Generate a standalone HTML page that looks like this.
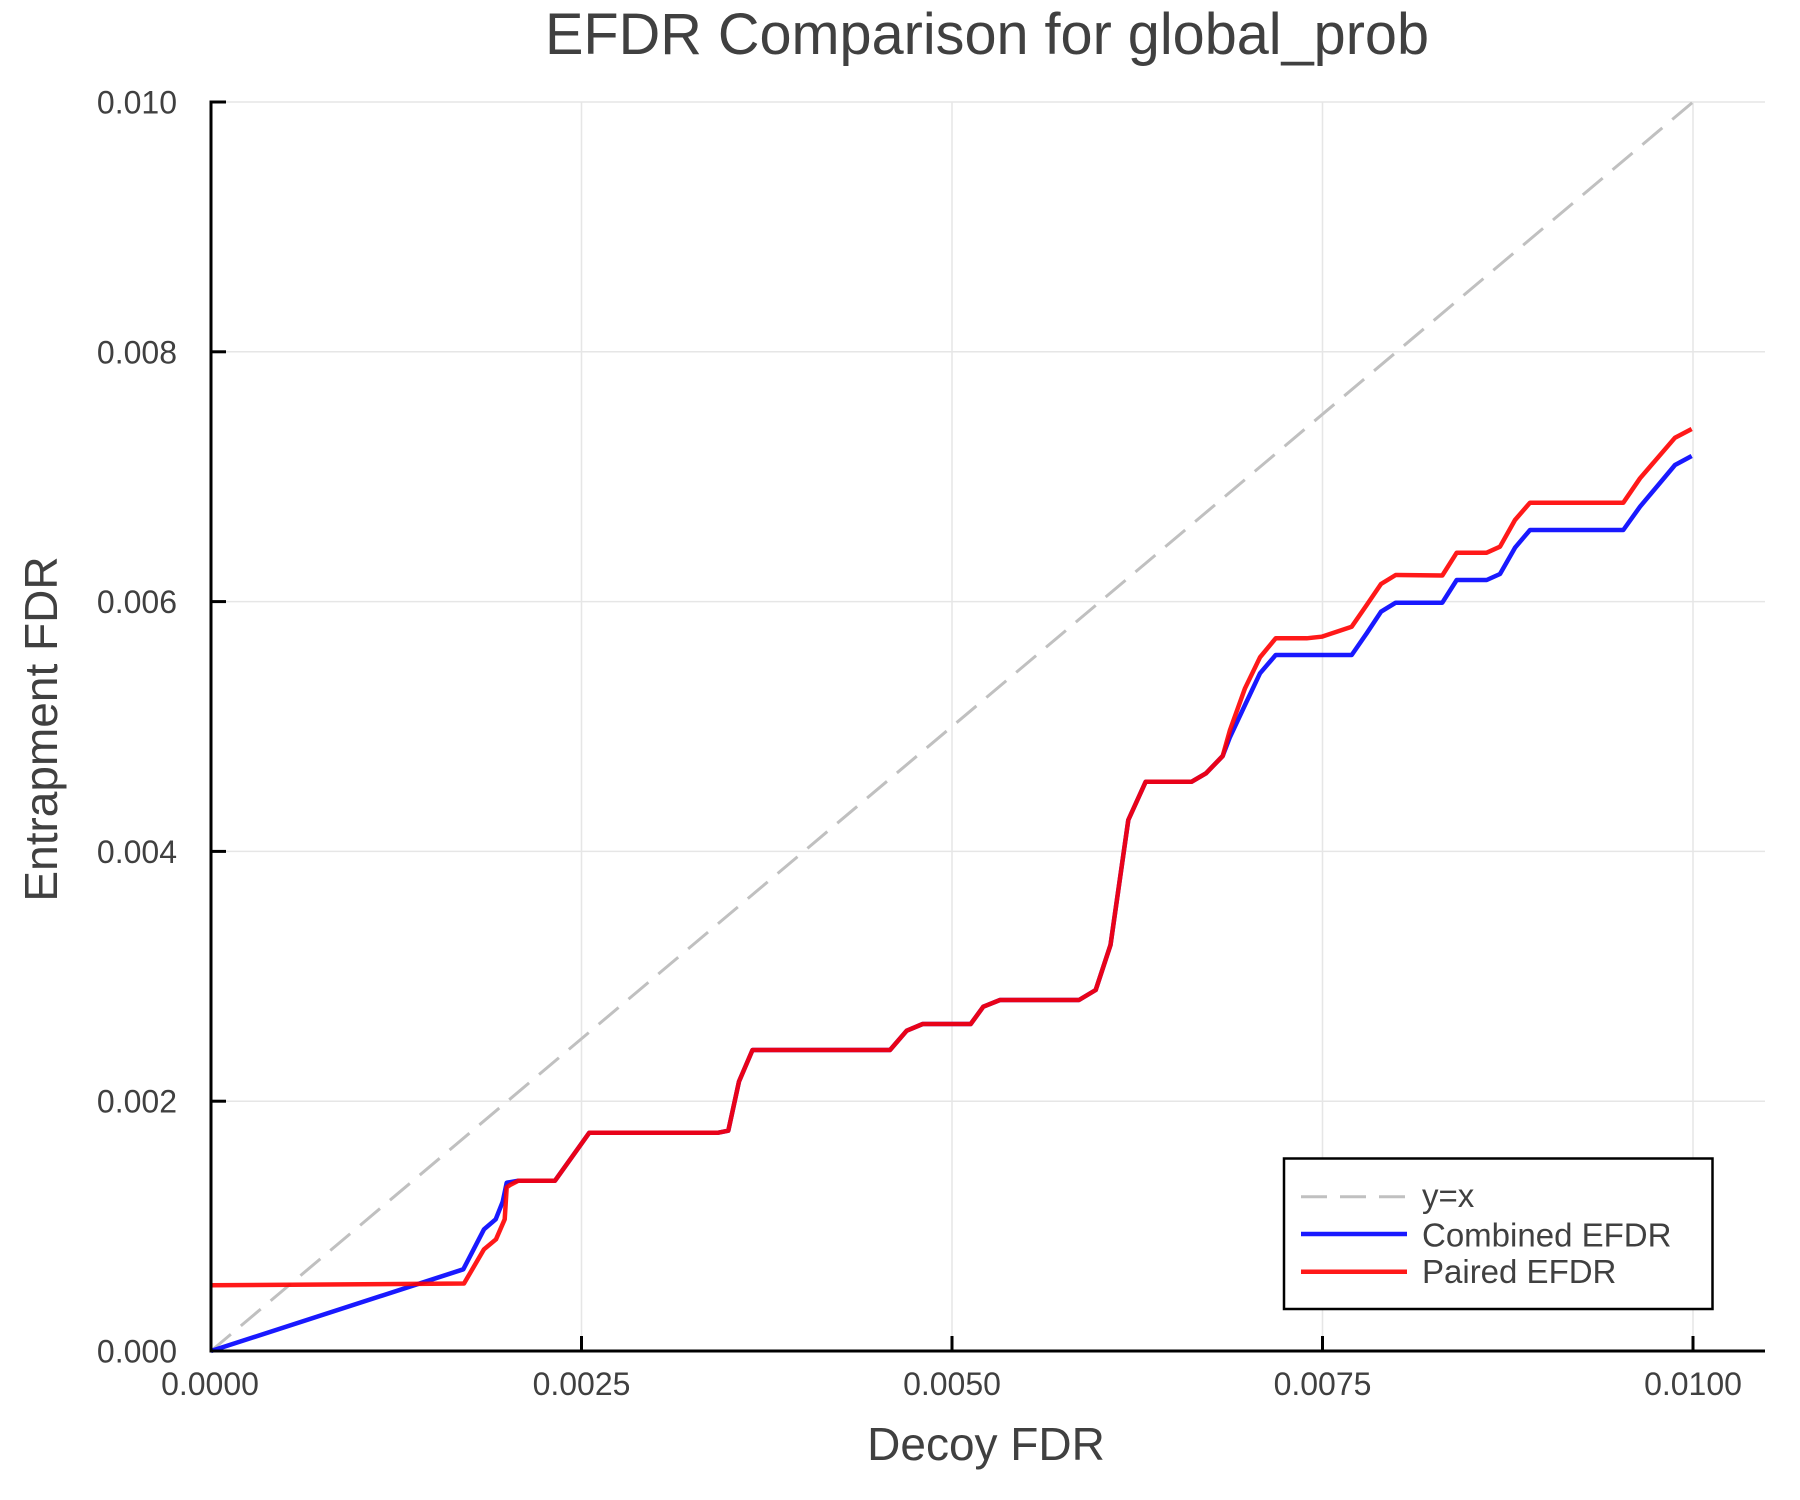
<!DOCTYPE html>
<html>
<head>
<meta charset="utf-8">
<style>
  html, body { margin: 0; padding: 0; background: #ffffff; }
  body { width: 1800px; height: 1500px; overflow: hidden; }
  svg { display: block; }
  text { font-family: "Liberation Sans", Arial, Helvetica, sans-serif; fill: #404040; }
</style>
</head>
<body>
<svg width="1800" height="1500" viewBox="0 0 1800 1500" xmlns="http://www.w3.org/2000/svg">
  <rect x="0" y="0" width="1800" height="1500" fill="#ffffff"/>

  <!-- Title -->
  <text x="987" y="54" font-size="58" text-anchor="middle" textLength="884" lengthAdjust="spacingAndGlyphs">EFDR Comparison for global_prob</text>

  <!-- Grid lines -->
  <g stroke="#e6e6e6" stroke-width="1.5">
    <line x1="581.5" y1="102" x2="581.5" y2="1351"/>
    <line x1="952" y1="102" x2="952" y2="1351"/>
    <line x1="1322.5" y1="102" x2="1322.5" y2="1351"/>
    <line x1="1693" y1="102" x2="1693" y2="1351"/>
    <line x1="211" y1="1101.2" x2="1765" y2="1101.2"/>
    <line x1="211" y1="851.4" x2="1765" y2="851.4"/>
    <line x1="211" y1="601.6" x2="1765" y2="601.6"/>
    <line x1="211" y1="351.8" x2="1765" y2="351.8"/>
    <line x1="211" y1="102" x2="1765" y2="102"/>
  </g>

  <!-- y = x dashed -->
  <line x1="211" y1="1351" x2="1693" y2="102" stroke="#c0c0c0" stroke-width="3" stroke-dasharray="26 13"/>

  <!-- Combined EFDR (blue) -->
  <polyline fill="none" stroke="#0000ff" stroke-opacity="0.9" stroke-width="4.5" stroke-linejoin="round"
    points="211,1351 463.3,1269.3 484,1229.3 495.7,1219.3 502.7,1201.7 506.7,1182.7 518.3,1180.7 555,1180.7 589.3,1132.7 718.3,1132.7 728.3,1130.7 739,1081.5 752.5,1050 890,1050 906.7,1030.7 922.7,1024 970.7,1024 983.3,1006.7 1000,1000 1079,1000 1095.7,990 1110.5,945 1128.3,820 1145.7,781.7 1191.7,781.7 1206,773.3 1222.7,756 1230,737 1245,705 1260,673.3 1275.7,655 1351.7,655 1366.7,633.3 1381,611.7 1395.7,602.7 1442.3,602.7 1456.7,580 1486.7,580 1500,574 1515,547.7 1530,530 1623.3,530 1640,506.7 1675,465 1691.7,456"/>

  <!-- Paired EFDR (red) -->
  <polyline fill="none" stroke="#ff0000" stroke-opacity="0.9" stroke-width="4.5" stroke-linejoin="round"
    points="211,1285.3 464,1283.5 484,1249.3 496,1239.3 504.7,1219.3 506.7,1187.3 510,1185 518.3,1180.7 555,1180.7 589.3,1132.7 718.3,1132.7 728.3,1130.7 739,1081.5 752.5,1050 890,1050 906.7,1030.7 922.7,1024 970.7,1024 983.3,1006.7 1000,1000 1079,1000 1095.7,990 1110.5,945 1128.3,820 1145.7,781.7 1191.7,781.7 1206,773.3 1222.7,756 1230,730 1245,688.3 1260,657.3 1275.7,638.3 1306.7,638.3 1321.7,636.7 1336.7,631.7 1351.7,626.7 1366.7,605 1381,584 1395.7,575 1442.3,575.5 1456.7,552.7 1486.7,552.7 1500,546.7 1515,520 1530,502.7 1623.3,502.7 1640,478.3 1675,437.7 1691.7,429"/>

  <!-- Axes spines -->
  <g stroke="#000000" stroke-width="3" fill="none">
    <line x1="211" y1="100.5" x2="211" y2="1352.5"/>
    <line x1="209.5" y1="1351" x2="1765" y2="1351"/>
    <!-- y ticks -->
    <line x1="211" y1="1101.2" x2="226" y2="1101.2"/>
    <line x1="211" y1="851.4" x2="226" y2="851.4"/>
    <line x1="211" y1="601.6" x2="226" y2="601.6"/>
    <line x1="211" y1="351.8" x2="226" y2="351.8"/>
    <line x1="211" y1="102" x2="226" y2="102"/>
    <line x1="211" y1="1351" x2="226" y2="1351"/>
    <!-- x ticks -->
    <line x1="581.5" y1="1351" x2="581.5" y2="1336"/>
    <line x1="952" y1="1351" x2="952" y2="1336"/>
    <line x1="1322.5" y1="1351" x2="1322.5" y2="1336"/>
    <line x1="1693" y1="1351" x2="1693" y2="1336"/>
  </g>

  <!-- Y tick labels -->
  <g font-size="32" text-anchor="end">
    <text x="177" y="1362.5">0.000</text>
    <text x="177" y="1112.7">0.002</text>
    <text x="177" y="862.9">0.004</text>
    <text x="177" y="613.1">0.006</text>
    <text x="177" y="363.3">0.008</text>
    <text x="177" y="113.5">0.010</text>
  </g>

  <!-- X tick labels -->
  <g font-size="32" text-anchor="middle">
    <text x="210" y="1395">0.0000</text>
    <text x="581.5" y="1395">0.0025</text>
    <text x="952" y="1395">0.0050</text>
    <text x="1322.5" y="1395">0.0075</text>
    <text x="1693" y="1395">0.0100</text>
  </g>

  <!-- Axis labels -->
  <text x="986" y="1460" font-size="46" text-anchor="middle">Decoy FDR</text>
  <text x="0" y="0" font-size="46" text-anchor="middle" transform="translate(57,729) rotate(-90)">Entrapment FDR</text>

  <!-- Legend -->
  <rect x="1284" y="1158.5" width="428.5" height="150.5" fill="#ffffff" stroke="#000000" stroke-width="2.5"/>
  <line x1="1301" y1="1196.7" x2="1407" y2="1196.7" stroke="#c0c0c0" stroke-width="3" stroke-dasharray="26 13"/>
  <line x1="1301" y1="1234" x2="1407" y2="1234" stroke="#0000ff" stroke-opacity="0.9" stroke-width="4.5"/>
  <line x1="1301" y1="1271.7" x2="1407" y2="1271.7" stroke="#ff0000" stroke-opacity="0.9" stroke-width="4.5"/>
  <g font-size="33">
    <text x="1422" y="1207">y=x</text>
    <text x="1422" y="1246.5">Combined EFDR</text>
    <text x="1422" y="1283">Paired EFDR</text>
  </g>
</svg>
</body>
</html>
